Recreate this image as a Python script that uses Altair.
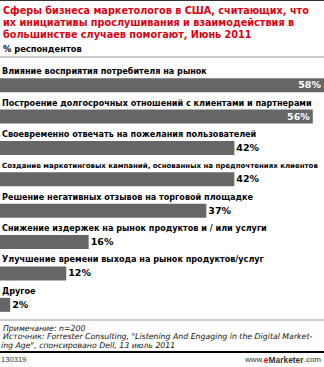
import altair as alt
import pandas as pd

categories = [
    "Влияние восприятия потребителя на рынок",
    "Построение долгосрочных отношений с клиентами и партнерами",
    "Своевременно отвечать на пожелания пользователей",
    "Создание маркетинговых кампаний, основанных на предпочтениях клиентов",
    "Решение негативных отзывов на торговой площадке",
    "Снижение издержек на рынок продуктов и / или услуги",
    "Улучшение времени выхода на рынок продуктов/услуг",
    "Другое",
]
values = [58, 56, 42, 42, 37, 16, 12, 2]

title_lines = [
    "Сферы бизнеса маркетологов в США, считающих, что",
    "их инициативы прослушивания и взаимодействия в",
    "большинстве случаев помогают, Июнь 2011",
]
subtitle = "% респондентов"
note_lines = [
    "Примечание: n=200",
    "Источник: Forrester Consulting, \"Listening And Engaging in the Digital Market-",
    "ing Age\", спонсировано Dell, 13 июль 2011",
]
chart_id = "130319"

W, H = 324, 367
FONT = "DejaVu Sans"

df = pd.DataFrame({"category": categories, "value": values})
df["label"] = df["value"].astype(str) + "%"

x_enc = alt.X("value:Q", scale=alt.Scale(domain=[0, 58], range=[-1, 324], nice=False, zero=True), axis=None)
y_enc = alt.Y("category:N", sort=categories,
              scale=alt.Scale(domain=categories, range=[69.5, 320.5], paddingInner=0, paddingOuter=0),
              axis=None)

base = alt.Chart(df)

bars = base.mark_bar(color="#666666", height=14).encode(x=x_enc, y=y_enc)

cat_labels = base.mark_text(align="left", baseline="middle", font=FONT, fontWeight="bold",
                            color="#000000", yOffset=-13).encode(
    x=alt.value(2), y=y_enc, text="category:N",
    size=alt.condition("length(datum.category) > 60", alt.value(7.0), alt.value(8.1)),
)

val_in = base.transform_filter("datum.value >= 50").mark_text(
    align="right", baseline="middle", font=FONT, fontWeight="bold", fontSize=9.5,
    color="#ffffff", dx=-3).encode(x=x_enc, y=y_enc, text="label:N")

val_out = base.transform_filter("datum.value < 50").mark_text(
    align="left", baseline="middle", font=FONT, fontWeight="bold", fontSize=9.5,
    color="#000000", dx=2).encode(x=x_enc, y=y_enc, text="label:N")

def txt(s, x, y, size, color="#000000", weight="normal", style="normal", align="left", font=FONT):
    return alt.Chart(pd.DataFrame({"t": [s]})).mark_text(
        align=align, baseline="middle", font=font, fontSize=size, fontWeight=weight,
        fontStyle=style, color=color).encode(x=alt.value(x), y=alt.value(y), text="t:N")

def rule(y, color, width):
    return alt.Chart(pd.DataFrame({"a": [0]})).mark_rule(color=color, strokeWidth=width).encode(
        x=alt.value(0), x2=alt.value(W), y=alt.value(y))

layers = [bars, cat_labels, val_in, val_out]
for i, line in enumerate(title_lines):
    layers.append(txt(line, 3, 10.5 + 12.2 * i, 9.7, color="#e3000f", weight="bold"))
layers.append(txt(subtitle, 3, 50, 8.3, weight="bold"))
for i, line in enumerate(note_lines):
    layers.append(txt(line, 1 if i == 2 else 3, 329 + 8.3 * i, 7.8, color="#111111", style="italic"))
layers.append(txt(chart_id, 1, 360, 7.6, color="#333333", font="Liberation Sans"))
layers.append(txt(".com", 321, 360, 8, color="#333333", align="right", font="Liberation Sans"))
layers.append(txt("Marketer", 303.5, 360, 8.4, color="#333333", weight="bold", align="right", font="Liberation Sans"))
layers.append(txt("e", 268.5, 360, 8.4, color="#e3000f", weight="bold", align="right", font="Liberation Sans"))
layers.append(txt("www.", 264, 360, 8, color="#333333", align="right", font="Liberation Sans"))
layers.append(rule(0.5, "#333333", 1))
layers.append(rule(57, "#999999", 1))
layers.append(rule(320, "#999999", 1))
layers.append(rule(352, "#000000", 2))

chart = alt.layer(*layers).properties(
    width=W, height=H, padding=0, autosize=alt.AutoSizeParams(type="none"), background="#ffffff"
).configure_view(stroke=None)

chart.save("out.html", embed_options={"renderer": "svg", "actions": False})
